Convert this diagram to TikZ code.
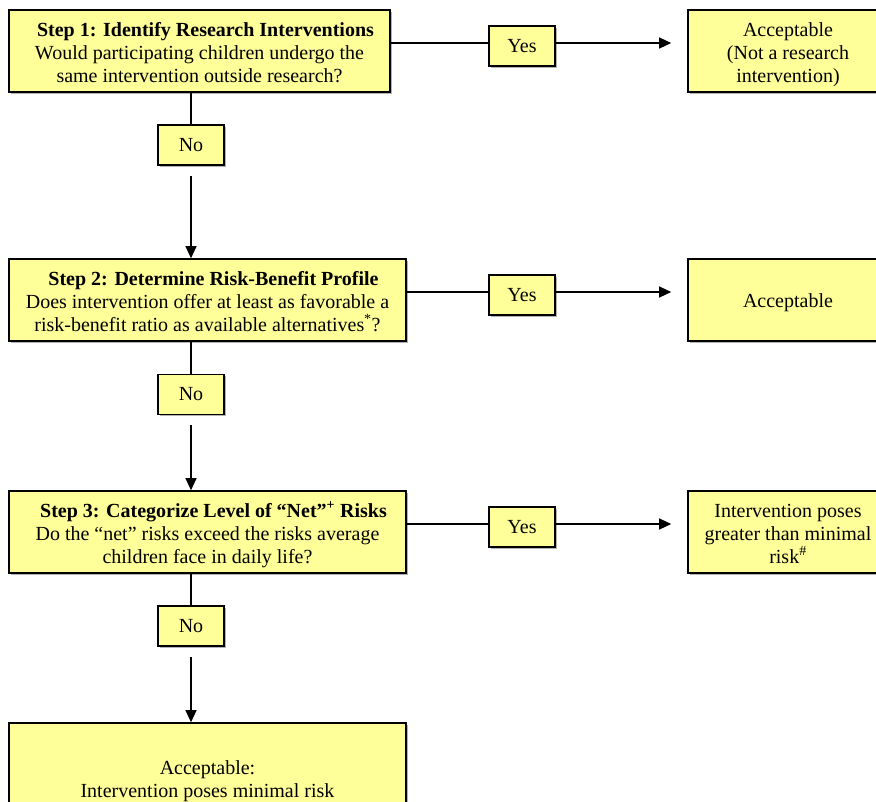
\documentclass[tikz,border=0pt]{standalone}
\usepackage{fontspec}
\setmainfont{Liberation Serif}
\usetikzlibrary{arrows.meta,shadows}
\definecolor{boxyellow}{RGB}{255,255,153}
\newcommand{\headpad}{\hspace*{12pt}}
\begin{document}
\begin{tikzpicture}[x=1pt,y=-1pt,
  box/.style={draw=black, line width=1.6pt, fill=boxyellow, align=center, font=\fontsize{20}{23}\selectfont, inner sep=0pt,
    drop shadow={shadow xshift=1.5pt, shadow yshift=-1.5pt, fill=gray, opacity=0.6}},
  oneline/.style={box, text height=19pt, text depth=5pt},
  twolines/.style={box, text height=42pt, text depth=5pt},
  threelines/.style={box, text height=67pt, text depth=5pt},
  lbl/.style={box, minimum width=66pt, minimum height=40pt},
  conn/.style={line width=1.2pt},
  arr/.style={conn, -{Triangle[length=12pt,width=11pt]}}]
\useasboundingbox (0,0) rectangle (876,801);
\clip (0,0) rectangle (876,801);
% main boxes
\node[threelines, minimum width=381pt, minimum height=82pt] (box1) at (199.5,51)
  {\headpad\textbf{Step 1: Identify Research Interventions}\\Would participating children undergo the\\same intervention outside research?};
\node[threelines, minimum width=397pt, minimum height=82pt] (box2) at (207.5,300)
  {\headpad\textbf{Step 2: Determine Risk-Benefit Profile}\\Does intervention offer at least as favorable a\\risk-benefit ratio as available alternatives\textsuperscript{*}?};
\node[threelines, minimum width=397pt, minimum height=82pt] (box3) at (207.5,532)
  {\headpad\textbf{Step 3: Categorize Level of “Net”\textsuperscript{+} Risks}\\Do the “net” risks exceed the risks average\\children face in daily life?};
\node[twolines, minimum width=397pt, minimum height=112pt] (box4) at (207.5,779)
  {Acceptable:\\Intervention poses minimal risk};
% outcome boxes
\node[threelines, minimum width=200pt, minimum height=82pt] (acc1) at (788,51)
  {Acceptable\\(Not a research\\intervention)};
\node[oneline, minimum width=200pt, minimum height=82pt] (acc2) at (788,300)
  {Acceptable};
\node[threelines, minimum width=200pt, minimum height=82pt] (acc3) at (788,532)
  {Intervention poses\\greater than minimal\\risk\textsuperscript{\#}};
% labels
\node[lbl] (yes1) at (522,46) {Yes};
\node[lbl] (yes2) at (522,295) {Yes};
\node[lbl] (yes3) at (522,527) {Yes};
\node[lbl] (no1) at (191,145) {No};
\node[lbl] (no2) at (191,394.5) {No};
\node[lbl] (no3) at (191,626) {No};
% row lines
\coordinate (r1) at (0,43);
\coordinate (r2) at (0,292);
\coordinate (r3) at (0,524);
\draw[conn] (box1.east |- r1) -- (yes1.west |- r1);
\draw[arr] (yes1.east |- r1) -- ([xshift=-16pt]acc1.west |- r1);
\draw[conn] (box2.east |- r2) -- (yes2.west |- r2);
\draw[arr] (yes2.east |- r2) -- ([xshift=-16pt]acc2.west |- r2);
\draw[conn] (box3.east |- r3) -- (yes3.west |- r3);
\draw[arr] (yes3.east |- r3) -- ([xshift=-16pt]acc3.west |- r3);
% vertical lines
\draw[conn] (box1.south -| no1) -- (no1.north);
\draw[arr] ([yshift=-10pt]no1.south) -- (box2.north -| no1);
\draw[conn] (box2.south -| no2) -- (no2.north);
\draw[arr] ([yshift=-10pt]no2.south) -- (box3.north -| no2);
\draw[conn] (box3.south -| no3) -- (no3.north);
\draw[arr] ([yshift=-10pt]no3.south) -- (box4.north -| no3);
\end{tikzpicture}
\end{document}
